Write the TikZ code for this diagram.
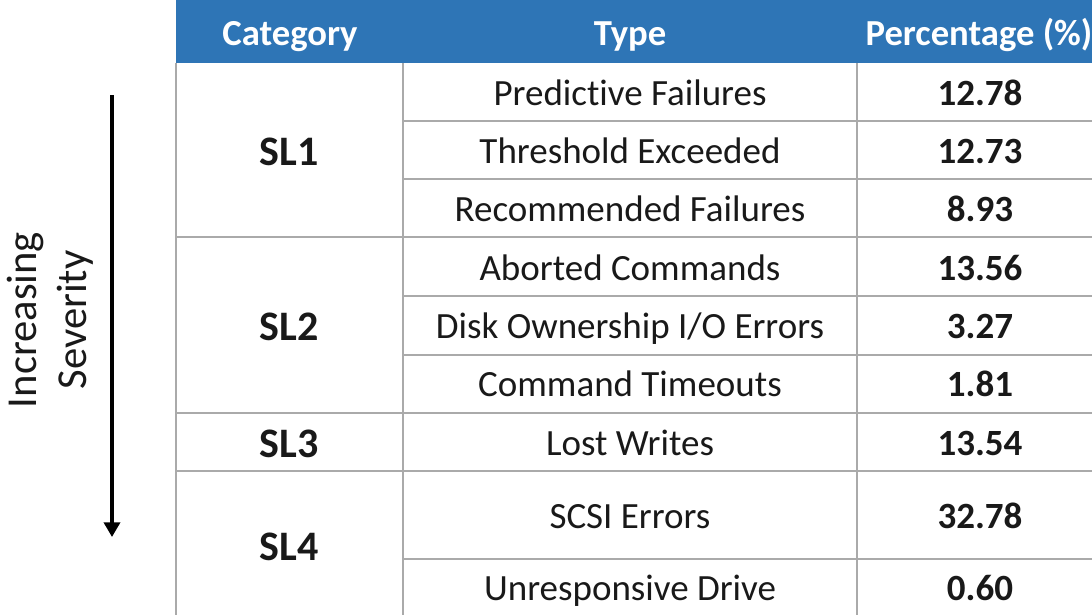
\documentclass[tikz,border=0pt]{standalone}
\usepackage{fontspec}
\setmainfont{Carlito}[RawFeature={-liga;-clig;-dlig;-calt;-rlig}]
\usetikzlibrary{arrows.meta}
\definecolor{hdrblue}{RGB}{46,117,182}
\definecolor{gridgray}{RGB}{170,170,170}
\definecolor{txt}{RGB}{25,25,25}
\tikzset{
  grid/.style={draw=gridgray, line width=1.6pt},
  hdr/.style={anchor=base, text=white, font=\fontsize{27.5}{33}\selectfont\bfseries, inner sep=0pt},
  cell/.style={anchor=base, text=txt, font=\fontsize{27.75}{33}\selectfont, inner sep=0pt},
  bcell/.style={cell, font=\fontsize{27.75}{33}\selectfont\bfseries},
  catcell/.style={cell, font=\fontsize{31.5}{36}\selectfont\bfseries},
  lbl/.style={text=txt, font=\fontsize{32}{37.5}\selectfont, align=center, rotate=90, inner sep=0pt},
  sevarrow/.style={line width=2.6pt, -{Triangle[width=12pt,length=11pt]}}
}
\begin{document}
\begin{tikzpicture}[x=0.75pt, y=-0.75pt]
\useasboundingbox (0,0) rectangle (1092,615);
% header
\fill[hdrblue] (176,0) rectangle (1092,63);
\node[hdr] (hcat) at (290,45) {Category};
\node[hdr] (htype) at (630,45) {Type};
\node[hdr] (hpct) at (979,45) {Percentage (\%)};
% grid: verticals
\draw[grid] (176,63) -- (176,615);
\draw[grid] (403,63) -- (403,615);
\draw[grid] (857,63) -- (857,615);
% grid: horizontals in type/percentage columns
\foreach \yy in {121,179,237,296,355,413,471,559} {
  \draw[grid] (403,\yy) -- (1092,\yy);
}
% grid: horizontals in category column
\foreach \yy in {237,413,471} {
  \draw[grid] (176,\yy) -- (403,\yy);
}
% categories
\node[catcell] (sl1) at (289,165) {SL1};
\node[catcell] (sl2) at (289,340) {SL2};
\node[catcell] (sl3) at (289,457) {SL3};
\node[catcell] (sl4) at (289,560) {SL4};
% types
\node[cell] (t1) at (630,105) {Predic\kern0pt tive Failures};
\node[cell] (t2) at (630,163) {Threshold Exceeded};
\node[cell] (t3) at (630,221) {Recommended Failures};
\node[cell] (t4) at (630,280) {Aborted Commands};
\node[cell] (t5) at (630,338) {Disk Ownership I/O Errors};
\node[cell] (t6) at (630,396) {Command Timeouts};
\node[cell] (t7) at (630,455) {Lost Writes};
\node[cell] (t8) at (630,528) {SCSI Errors};
\node[cell] (t9) at (630,600) {Unresponsive Drive};
% percentages
\node[bcell] (p1) at (980,105) {12.78};
\node[bcell] (p2) at (980,163) {12.73};
\node[bcell] (p3) at (980,221) {8.93};
\node[bcell] (p4) at (980,280) {13.56};
\node[bcell] (p5) at (980,338) {3.27};
\node[bcell] (p6) at (980,396) {1.81};
\node[bcell] (p7) at (980,455) {13.54};
\node[bcell] (p8) at (980,528) {32.78};
\node[bcell] (p9) at (980,600) {0.60};
% severity arrow and label
\coordinate (atop) at (112,95);
\coordinate (abot) at (112,537);
\draw[sevarrow] (atop) -- (abot);
\node[lbl] (sev) at (50,320) {Increasing\\Severity};
\end{tikzpicture}
\end{document}
